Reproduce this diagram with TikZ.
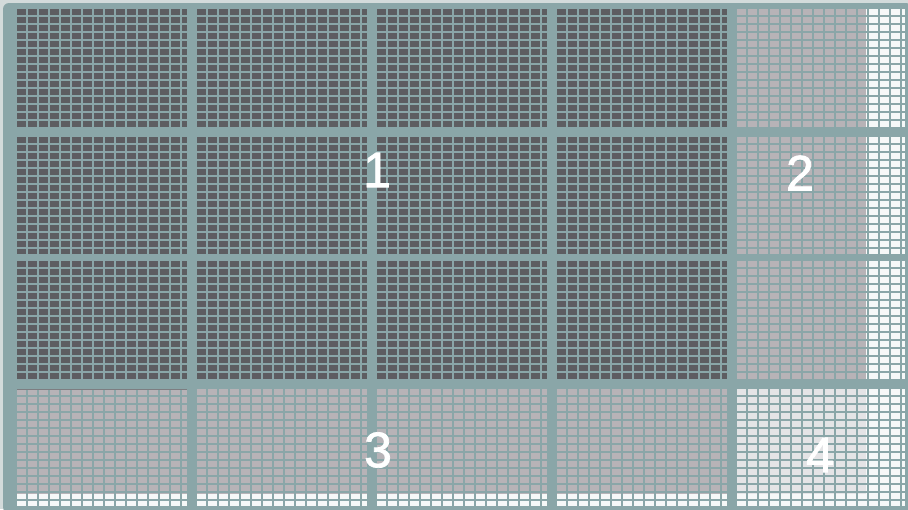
\documentclass[tikz,border=0pt]{standalone}
\usepackage{fontspec}
\setmainfont{Liberation Sans}
\newfontfamily\digitfont[FakeBold=1.5]{Liberation Sans}
\definecolor{tealbg}{HTML}{8AA6A8}
\definecolor{darkcell}{HTML}{5D5D61}
\definecolor{lightcell}{HTML}{B7B3B7}
\definecolor{whitecell}{HTML}{F6F8F8}
\definecolor{palecell}{HTML}{E4E4E6}
\definecolor{edgelight}{HTML}{D3DBDB}
\tikzset{
  gl/.style={draw=tealbg, line width=2.4pt},
  lbl/.style={text=white, font=\digitfont\fontsize{50}{50}\selectfont, inner sep=0pt}
}
\newcommand\gridlines[4]{%
  \begin{scope}
    \clip (#1,#2) rectangle (#3,#4);
    \foreach \k in {0,...,16} {\draw[gl] ({#1+9.7+11*\k},#2) -- ({#1+9.7+11*\k},#4);}
    \foreach \k in {0,...,15} {\draw[gl] (#1,{#2+6.7+8*\k}) -- (#3,{#2+6.7+8*\k});}
  \end{scope}}
\begin{document}
\begin{tikzpicture}[x=1pt,y=-1pt]
\useasboundingbox (0,0) rectangle (908,509);
\fill[edgelight] (0,0) rectangle (908,509);
\fill[tealbg, rounded corners=6pt] (3,3) rectangle (912,513);
% rows 1-3, dark blocks
\foreach \ya/\yb [count=\r] in {9/127,137/254,261/380} {
  \foreach \xa/\xb in {17/187,197/367,377/547,557/727} {
    \fill[darkcell] (\xa,\ya) rectangle (\xb,\yb);
    \gridlines{\xa}{\ya}{\xb}{\yb}
  }
  % region 2 with white strip
  \fill[lightcell] (737,\ya) rectangle (905,\yb);
  \fill[whitecell] (866,\ya) rectangle (905,\yb);
  \begin{scope}
    \clip (737,\ya) rectangle (905,\yb);
    \foreach \k in {0,...,16} {\draw[gl] ({737-1.2+11*\k},\ya) -- ({737-1.2+11*\k},\yb);}
    \foreach \k in {0,...,15} {\draw[gl] (737,{\ya+6.7+8*\k}) -- (905,{\ya+6.7+8*\k});}
  \end{scope}
}
% row 4: region 3
\foreach \xa/\xb in {17/187,197/367,377/547,557/727} {
  \fill[lightcell] (\xa,389) rectangle (\xb,506);
  \fill[whitecell] (\xa,494) rectangle (\xb,506);
  \gridlines{\xa}{389}{\xb}{506}
}
\draw[darkcell!80, line width=0.8pt] (17,389) -- (187,389);
% region 4
\fill[palecell] (737,389) rectangle (905,506);
\fill[whitecell] (866,389) rectangle (905,506);
\fill[whitecell] (737,494) rectangle (905,506);
\begin{scope}
  \clip (737,389) rectangle (905,506);
  \foreach \k in {0,...,16} {\draw[gl] ({737-1.2+11*\k},389) -- ({737-1.2+11*\k},506);}
  \foreach \k in {0,...,15} {\draw[gl] (737,{389+6.7+8*\k}) -- (905,{389+6.7+8*\k});}
\end{scope}
% labels
\node[lbl] (l1) at (377,170) {1};
\node[lbl] (l2) at (800,173) {2};
\node[lbl] (l3) at (378,450) {3};
\node[lbl] (l4) at (820,455) {4};
\end{tikzpicture}
\end{document}
